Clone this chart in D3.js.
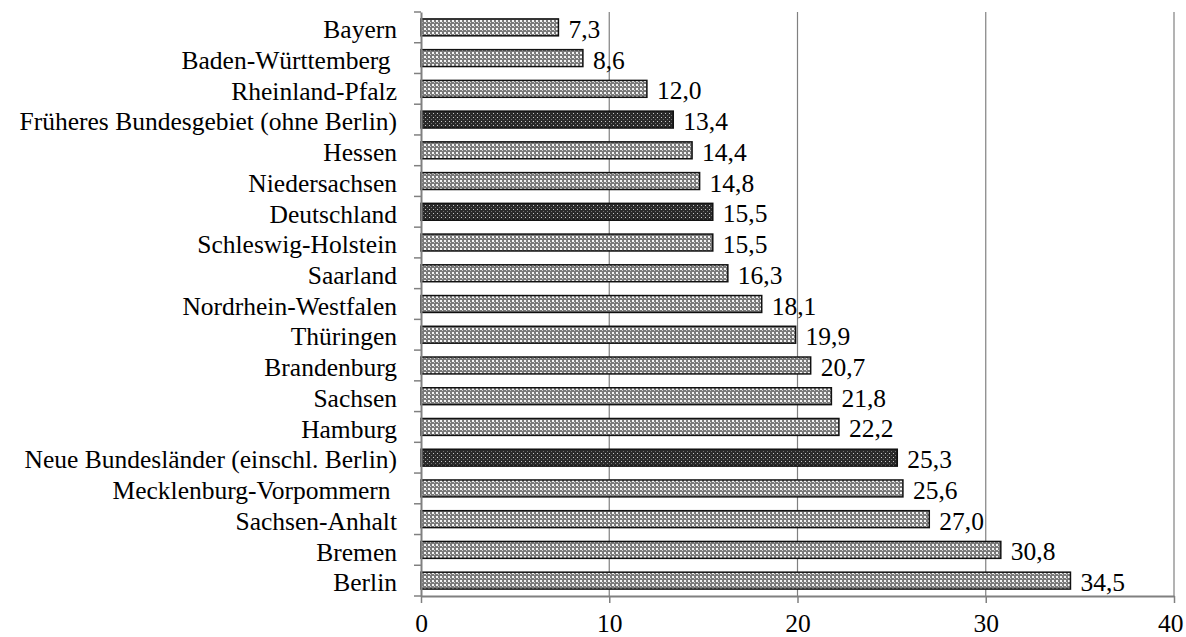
<!DOCTYPE html>
<html><head><meta charset="utf-8">
<script src="https://cdn.jsdelivr.net/npm/d3@7"></script>
<style>
html,body{margin:0;padding:0;background:#fff;}
svg text{font-family:"Liberation Serif","Times New Roman",Times,serif;}
</style></head>
<body>
<svg id="chart" width="1186" height="637"></svg>
<script>
const categories = ["Bayern","Baden-Württemberg ","Rheinland-Pfalz","Früheres Bundesgebiet (ohne Berlin)","Hessen","Niedersachsen","Deutschland","Schleswig-Holstein","Saarland","Nordrhein-Westfalen","Thüringen","Brandenburg","Sachsen","Hamburg","Neue Bundesländer (einschl. Berlin)","Mecklenburg-Vorpommern ","Sachsen-Anhalt","Bremen","Berlin"];
const values = [7.3,8.6,12.0,13.4,14.4,14.8,15.5,15.5,16.3,18.1,19.9,20.7,21.8,22.2,25.3,25.6,27.0,30.8,34.5];
const aggregates = ["Früheres Bundesgebiet (ohne Berlin)","Deutschland","Neue Bundesländer (einschl. Berlin)"];
const xTicks = [0,10,20,30,40];

const FONT = "Liberation Serif";
const FS = 25.5;
const svg = d3.select("#chart");
const m = {left:421, right:1174, top:12, bottom:596};
const x = d3.scaleLinear().domain([0,40]).range([m.left,m.right]);
const y = d3.scaleBand().domain(categories).range([m.top,m.bottom]).paddingInner(0.45).paddingOuter(0.225);

const defs = svg.append("defs");
const pl = defs.append("pattern").attr("id","light").attr("patternUnits","userSpaceOnUse").attr("width",4).attr("height",4);
pl.append("rect").attr("width",4).attr("height",4).attr("fill","#7a7a7a");
pl.append("rect").attr("x",0).attr("y",0).attr("width",2).attr("height",2).attr("fill","#f4f4f4");
pl.append("rect").attr("x",2).attr("y",2).attr("width",1).attr("height",1).attr("fill","#d0d0d0");
const pd = defs.append("pattern").attr("id","dark").attr("patternUnits","userSpaceOnUse").attr("width",4).attr("height",4);
pd.append("rect").attr("width",4).attr("height",4).attr("fill","#2a2a2a");
pd.append("rect").attr("x",1).attr("y",1).attr("width",1).attr("height",1).attr("fill","#c8c8c8");
pd.append("rect").attr("x",3).attr("y",3).attr("width",1).attr("height",1).attr("fill","#707070");

// gridlines
svg.append("g").selectAll("line").data(xTicks.filter(d=>d>0)).join("line")
  .attr("x1",d=>x(d)).attr("x2",d=>x(d)).attr("y1",m.top).attr("y2",m.bottom)
  .attr("stroke","#808080").attr("stroke-width",1.2);

// bars
svg.append("g").selectAll("rect").data(categories).join("rect")
  .attr("x",x(0)).attr("y",d=>y(d))
  .attr("width",(d,i)=>x(values[i])-x(0)).attr("height",y.bandwidth())
  .attr("fill",d=>aggregates.includes(d)?"url(#dark)":"url(#light)")
  .attr("stroke","#111").attr("stroke-width",1.5);

// value labels
svg.append("g").attr("font-family",FONT).selectAll("text").data(categories).join("text")
  .attr("x",(d,i)=>x(values[i])+10).attr("y",d=>y(d)+y.bandwidth()/2+10.5)
  .attr("font-size",FS).attr("fill","#000")
  .text((d,i)=>d3.format(".1f")(values[i]).replace(".",","));

// y axis
const yAxis = d3.axisLeft(y).tickSize(0).tickPadding(24);
const gy = svg.append("g").attr("transform",`translate(${m.left},0)`).call(yAxis).attr("font-family",FONT);
gy.select(".domain").attr("stroke","#808080").attr("stroke-width",2);
gy.selectAll("text").attr("font-size",FS).attr("fill","#000").attr("dy","0.42em").style("white-space","pre");
// y boundary ticks
const step = y.step();
const bounds = d3.range(categories.length+1).map(i=>m.top + i*step);
svg.append("g").selectAll("line").data(bounds).join("line")
  .attr("x1",m.left-7).attr("x2",m.left).attr("y1",d=>d).attr("y2",d=>d)
  .attr("stroke","#808080").attr("stroke-width",1.5);

// x axis
const xAxis = d3.axisBottom(x).tickValues(xTicks).tickSize(7).tickPadding(11).tickSizeOuter(0);
const gx = svg.append("g").attr("transform",`translate(0,${m.bottom})`).call(xAxis).attr("font-family",FONT);
gx.select(".domain").attr("stroke","#808080").attr("stroke-width",2);
gx.selectAll(".tick line").attr("stroke","#808080").attr("stroke-width",1.5);
gx.selectAll("text").attr("font-size",FS).attr("fill","#000")
  .attr("dx",d=>d===40?"-0.15em":null);
</script>
</body></html>
